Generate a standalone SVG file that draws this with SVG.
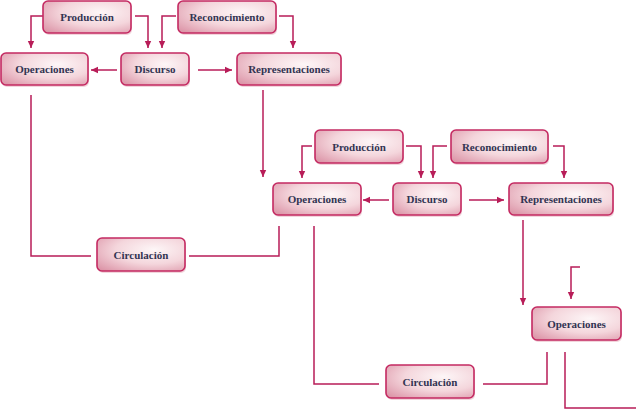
<svg xmlns="http://www.w3.org/2000/svg" width="636" height="409" viewBox="0 0 636 409">
<defs>
<radialGradient id="g" cx="0.62" cy="0.38" r="0.85" fx="0.65" fy="0.35">
<stop offset="0" stop-color="#fdf6f7"/>
<stop offset="0.5" stop-color="#f4d6dc"/>
<stop offset="1" stop-color="#da8fa3"/>
</radialGradient>
<marker id="ah" markerUnits="userSpaceOnUse" markerWidth="8" markerHeight="8" viewBox="0 0 8 8" refX="7" refY="4" orient="auto">
<path d="M0,0.8 L7,4 L0,7.2 Z" fill="#b81d58"/>
</marker>
</defs>
<style>
.n rect.b{fill:url(#g);stroke:#c42a62;stroke-width:1.6}
.n rect.s{fill:#ecc3cd;opacity:0.7}
.n text{font-family:"Liberation Serif","Times New Roman",serif;font-weight:bold;font-size:11px;fill:#323452;text-anchor:middle}
.c path{fill:none;stroke:#b81d58;stroke-width:1.5}
.c path.a{marker-end:url(#ah)}
</style>
<rect width="636" height="409" fill="#ffffff"/>
<g class="c" id="connectors">
<path class="a" d="M43,16 H31 V48"/>
<path class="a" d="M135,16 H148 V48"/>
<path class="a" d="M176,16 H162 V48"/>
<path class="a" d="M279,16 H293 V48"/>
<path class="a" d="M117,70 H91"/>
<path class="a" d="M198,70 H232"/>
<path d="M31,95 V256 H91"/>
<path d="M189,256 H279 V226"/>
<path class="a" d="M263,90 V177"/>
<path class="a" d="M312,146 H302 V178"/>
<path class="a" d="M406,146 H421 V178"/>
<path class="a" d="M447,146 H433 V178"/>
<path class="a" d="M553,146 H564 V178"/>
<path class="a" d="M389,200 H363"/>
<path class="a" d="M469,200 H504"/>
<path d="M314,226 V384 H379"/>
<path d="M483,384 H547 V352"/>
<path class="a" d="M523,220 V305"/>
<path class="a" d="M580,267 H571 V299"/>
<path d="M565,352 V408 H636"/>
</g>
<g class="n" id="produccion1"><rect class="s" x="44" y="3" width="88" height="32" rx="5"/><rect class="b" x="43" y="1" width="88" height="32" rx="5"/><text x="87" y="21">Producción</text></g>
<g class="n" id="reconocimiento1"><rect class="s" x="179" y="3" width="98" height="32" rx="5"/><rect class="b" x="178" y="1" width="98" height="32" rx="5"/><text x="227" y="21">Reconocimiento</text></g>
<g class="n" id="operaciones1"><rect class="s" x="2" y="55" width="87" height="32" rx="5"/><rect class="b" x="1" y="53" width="87" height="32" rx="5"/><text x="44.5" y="73">Operaciones</text></g>
<g class="n" id="discurso1"><rect class="s" x="122" y="55" width="68" height="32" rx="5"/><rect class="b" x="121" y="53" width="68" height="32" rx="5"/><text x="155" y="73">Discurso</text></g>
<g class="n" id="representaciones1"><rect class="s" x="238" y="55" width="104" height="32" rx="5"/><rect class="b" x="237" y="53" width="104" height="32" rx="5"/><text x="289" y="73">Representaciones</text></g>
<g class="n" id="circulacion1"><rect class="s" x="98" y="240" width="88" height="33" rx="5"/><rect class="b" x="97" y="238" width="88" height="33" rx="5"/><text x="141" y="258.5">Circulación</text></g>
<g class="n" id="produccion2"><rect class="s" x="316" y="132" width="88" height="33" rx="5"/><rect class="b" x="315" y="130" width="88" height="33" rx="5"/><text x="359" y="150.5">Producción</text></g>
<g class="n" id="reconocimiento2"><rect class="s" x="452" y="132" width="97" height="33" rx="5"/><rect class="b" x="451" y="130" width="97" height="33" rx="5"/><text x="499.5" y="150.5">Reconocimiento</text></g>
<g class="n" id="operaciones2"><rect class="s" x="274" y="185" width="88" height="32" rx="5"/><rect class="b" x="273" y="183" width="88" height="32" rx="5"/><text x="317" y="203">Operaciones</text></g>
<g class="n" id="discurso2"><rect class="s" x="394" y="185" width="68" height="32" rx="5"/><rect class="b" x="393" y="183" width="68" height="32" rx="5"/><text x="427" y="203">Discurso</text></g>
<g class="n" id="representaciones2"><rect class="s" x="510" y="185" width="104" height="32" rx="5"/><rect class="b" x="509" y="183" width="104" height="32" rx="5"/><text x="561" y="203">Representaciones</text></g>
<g class="n" id="operaciones3"><rect class="s" x="533" y="309" width="89" height="33" rx="5"/><rect class="b" x="532" y="307" width="89" height="33" rx="5"/><text x="576.5" y="327.5">Operaciones</text></g>
<g class="n" id="circulacion2"><rect class="s" x="387" y="367" width="88" height="33" rx="5"/><rect class="b" x="386" y="365" width="88" height="33" rx="5"/><text x="430" y="385.5">Circulación</text></g>
</svg>
